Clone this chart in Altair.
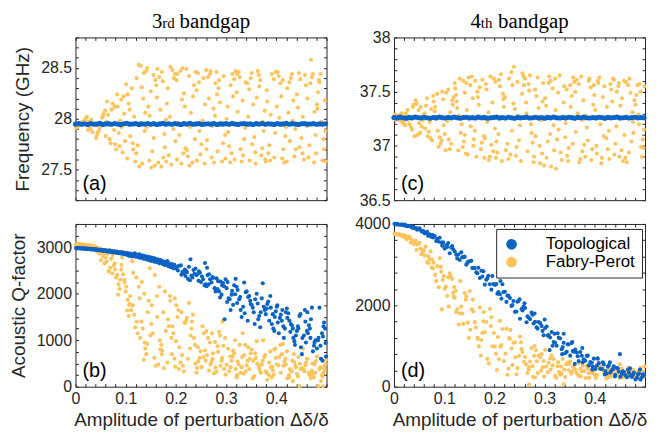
import altair as alt
import pandas as pd

# ---------------- data ----------------
panel_tags = ["(a)", "(b)", "(c)", "(d)"]
series_names = ["Topological", "Fabry-Perot"]
x_title = "Amplitude of perturbation Δδ/δ"
x_label_values = [0, 0.1, 0.2, 0.3, 0.4]

line_x = [0.000,0.006,0.012,0.018,0.024,0.030,0.036,0.042,0.048,0.054,0.060,0.066,0.072,0.078,0.084,0.090,
          0.096,0.102,0.108,0.114,0.120,0.126,0.132,0.138,0.144,0.150,0.156,0.162,0.168,0.174,0.180,0.186,
          0.192,0.198,0.204,0.210,0.216,0.222,0.228,0.234,0.240,0.246,0.252,0.258,0.264,0.270,0.276,0.282,
          0.288,0.294,0.300,0.306,0.312,0.318,0.324,0.330,0.336,0.342,0.348,0.354,0.360,0.366,0.372,0.378,
          0.384,0.390,0.396,0.402,0.408,0.414,0.420,0.426,0.432,0.438,0.444,0.450,0.456,0.462,0.468,0.474,
          0.480,0.486,0.492,0.498]
a_topo_y = [27.948,27.952,27.946,27.951,27.944,27.953,27.949,27.947,27.955,27.945,27.950,27.952,27.946,27.954,27.948,27.943,
            27.951,27.956,27.947,27.949,27.953,27.945,27.950,27.948,27.954,27.946,27.952,27.944,27.950,27.955,27.947,27.951,
            27.946,27.953,27.949,27.944,27.952,27.948,27.955,27.946,27.950,27.953,27.945,27.949,27.951,27.947,27.954,27.944,
            27.950,27.948,27.952,27.946,27.955,27.949,27.945,27.951,27.953,27.947,27.950,27.944,27.952,27.948,27.954,27.946,
            27.951,27.949,27.945,27.953,27.947,27.950,27.955,27.946,27.952,27.948,27.944,27.951,27.953,27.947,27.949,27.952,
            27.946,27.950,27.948,27.951]
c_topo_y = [37.262,37.258,37.265,37.260,37.256,37.263,37.259,37.266,37.261,37.257,37.264,37.260,37.255,37.262,37.258,37.265,
            37.261,37.257,37.263,37.259,37.266,37.260,37.256,37.262,37.264,37.258,37.261,37.257,37.265,37.260,37.263,37.256,
            37.259,37.262,37.266,37.258,37.261,37.257,37.264,37.260,37.255,37.263,37.259,37.262,37.265,37.257,37.260,37.264,
            37.258,37.261,37.256,37.263,37.259,37.266,37.260,37.257,37.262,37.258,37.264,37.261,37.256,37.263,37.259,37.265,
            37.260,37.257,37.262,37.258,37.264,37.261,37.256,37.263,37.259,37.262,37.266,37.258,37.260,37.263,37.257,37.261,
            37.264,37.259,37.262,37.260]

a_fp = [(0.007,27.95),(0.002,27.93),(0.015,27.97),(0.011,27.96),(0.004,27.92),(0.018,27.98),(0.009,27.94),(0.013,27.95),
        (0.001,27.91),(0.016,27.97),
        (0.032,27.99),(0.025,27.89),(0.039,27.95),(0.023,28.02),(0.028,27.92),(0.034,27.87),(0.020,28.00),(0.037,27.94),
        (0.030,27.90),(0.026,27.97),
        (0.043,27.84),(0.056,28.05),(0.049,27.93),(0.041,27.81),(0.053,28.01),(0.046,27.88),(0.059,28.08),(0.051,27.96),
        (0.044,27.86),(0.055,28.03),(0.048,27.91),
        (0.078,28.12),(0.068,27.80),(0.062,27.97),(0.074,28.15),(0.070,27.76),(0.065,28.04),(0.077,27.89),(0.060,27.83),
        (0.072,28.09),(0.067,27.94),(0.079,27.75),(0.063,28.17),
        (0.081,27.70),(0.091,28.19),(0.086,27.86),(0.097,28.05),(0.083,28.24),(0.094,27.67),(0.089,27.98),(0.099,27.78),
        (0.084,28.12),(0.092,27.92),(0.096,28.22),(0.088,27.73),
        (0.112,28.30),(0.103,27.61),(0.117,28.02),(0.109,27.83),(0.101,28.34),(0.115,27.70),(0.106,28.15),(0.119,27.58),
        (0.111,27.95),(0.104,28.24),(0.114,27.76),(0.108,28.09),
        (0.126,28.53),(0.133,27.56),(0.122,28.40),(0.138,27.88),(0.121,27.66),(0.135,28.20),(0.130,28.52),(0.127,27.53),
        (0.139,28.06),(0.124,27.74),(0.136,28.45),(0.129,27.96),(0.132,28.31),
        (0.147,27.59),(0.141,28.47),(0.156,27.81),(0.150,28.27),(0.143,28.50),(0.158,27.54),(0.145,28.12),(0.153,27.68),
        (0.159,28.38),(0.142,27.92),(0.151,27.52),(0.155,28.43),(0.148,28.03),
        (0.172,28.46),(0.165,27.57),(0.161,28.33),(0.178,27.72),(0.169,28.09),(0.163,28.49),(0.175,27.62),(0.180,27.99),
        (0.167,28.41),(0.171,27.53),(0.162,28.21),(0.177,27.85),(0.174,28.37),
        (0.186,27.64),(0.198,28.44),(0.182,28.15),(0.191,27.55),(0.189,28.51),(0.195,27.90),(0.184,28.30),(0.199,27.78),
        (0.193,28.48),(0.181,27.58),(0.188,28.02),(0.196,28.40),
        (0.209,28.47),(0.202,27.60),(0.216,28.25),(0.205,27.96),(0.213,28.50),(0.219,27.71),(0.201,28.38),(0.211,27.56),
        (0.218,28.12),(0.207,27.84),(0.203,28.44),(0.215,27.66),(0.212,28.19),
        (0.233,27.57),(0.226,28.42),(0.238,27.80),(0.221,28.49),(0.230,28.06),(0.224,27.63),(0.236,28.33),(0.228,27.92),
        (0.239,28.46),(0.222,27.69),(0.234,28.22),(0.227,27.54),
        (0.244,28.45),(0.251,27.75),(0.258,28.14),(0.242,27.59),(0.255,28.40),(0.247,27.88),(0.260,28.48),(0.249,27.65),
        (0.241,28.28),(0.253,27.98),(0.257,27.56),(0.246,28.36),
        (0.271,27.62),(0.264,28.41),(0.278,28.03),(0.262,27.79),(0.269,28.47),(0.276,27.57),(0.266,28.20),(0.273,27.93),
        (0.279,28.35),(0.261,27.70),(0.268,28.44),(0.275,28.10),
        (0.285,28.30),(0.292,27.58),(0.281,28.46),(0.298,27.84),(0.288,28.16),(0.283,27.68),(0.295,28.42),(0.290,27.96),
        (0.299,27.61),(0.286,28.38),(0.294,27.76),(0.282,28.24),
        (0.306,27.73),(0.313,28.44),(0.301,28.00),(0.317,27.60),(0.309,28.33),(0.304,27.87),(0.319,28.47),(0.311,27.66),
        (0.303,28.12),(0.316,28.39),(0.308,27.57),(0.314,28.22),
        (0.327,28.41),(0.334,27.64),(0.321,28.26),(0.338,27.91),(0.325,28.46),(0.331,27.58),(0.323,28.07),(0.336,27.80),
        (0.339,28.36),(0.329,27.70),(0.333,28.18),(0.322,28.44),
        (0.347,27.59),(0.342,28.35),(0.356,27.82),(0.351,28.45),(0.344,28.02),(0.358,27.67),(0.349,28.40),(0.341,27.94),
        (0.354,28.14),(0.359,27.56),(0.346,28.29),(0.352,27.75),
        (0.365,28.43),(0.372,27.71),(0.361,28.21),(0.378,27.60),(0.368,28.38),(0.375,27.88),(0.363,28.47),(0.370,27.64),
        (0.377,28.08),(0.366,28.32),(0.373,27.97),(0.379,27.58),
        (0.384,27.66),(0.391,28.44),(0.398,27.86),(0.382,28.17),(0.395,28.39),(0.388,27.59),(0.381,28.28),(0.393,27.95),
        (0.386,27.74),(0.399,28.46),(0.389,28.04),(0.396,27.62),
        (0.405,28.42),(0.412,27.61),(0.401,28.12),(0.418,27.83),(0.408,28.35),(0.414,27.70),(0.403,28.46),(0.419,27.92),
        (0.410,28.22),(0.416,27.57),(0.406,28.01),(0.413,28.38),
        (0.427,27.78),(0.422,28.30),(0.436,27.63),(0.431,28.44),(0.424,28.06),(0.438,27.90),(0.429,28.40),(0.421,27.58),
        (0.434,28.18),(0.439,27.70),(0.426,28.36),(0.432,27.98),
        (0.445,28.45),(0.452,27.66),(0.441,28.24),(0.458,27.95),(0.448,28.39),(0.455,27.60),(0.443,28.11),(0.450,27.81),
        (0.457,28.43),(0.446,27.72),(0.453,28.02),(0.459,28.33),
        (0.464,27.62),(0.471,28.41),(0.469,28.58),(0.478,27.84),(0.462,28.20),(0.475,27.57),(0.468,28.35),(0.461,27.93),
        (0.476,28.07),(0.466,27.74),(0.473,28.44),(0.479,27.66),
        (0.485,28.38),(0.492,27.59),(0.481,28.14),(0.498,27.88),(0.488,28.44),(0.495,27.70),(0.483,28.26),(0.490,27.97),
        (0.499,27.58),(0.486,28.36),(0.494,27.80),(0.482,28.10),(0.497,28.18)]

c_fp = [(0.006,37.26),(0.013,37.23),(0.002,37.29),(0.018,37.21),(0.009,37.27),(0.015,37.30),(0.004,37.24),(0.011,37.28),
        (0.019,37.22),(0.007,37.25),
        (0.027,37.33),(0.034,37.17),(0.021,37.27),(0.038,37.36),(0.031,37.20),(0.024,37.30),(0.036,37.15),(0.029,37.24),
        (0.039,37.38),(0.022,37.19),
        (0.052,37.12),(0.045,37.39),(0.058,37.24),(0.041,37.09),(0.049,37.33),(0.055,37.18),(0.043,37.42),(0.057,37.28),
        (0.047,37.10),(0.053,37.36),(0.050,37.21),
        (0.066,37.44),(0.073,37.07),(0.061,37.30),(0.078,37.46),(0.069,37.13),(0.064,37.37),(0.076,37.05),(0.071,37.22),
        (0.079,37.41),(0.062,37.16),(0.074,37.34),(0.067,37.09),
        (0.093,37.02),(0.086,37.48),(0.099,37.19),(0.082,37.36),(0.089,36.99),(0.096,37.50),(0.084,37.27),(0.091,37.08),
        (0.098,37.43),(0.087,37.14),(0.081,37.32),(0.095,37.05),
        (0.104,37.49),(0.111,36.97),(0.117,37.38),(0.101,37.11),(0.108,37.52),(0.114,37.02),(0.106,37.23),(0.119,37.45),
        (0.103,36.96),(0.112,37.31),(0.109,37.06),(0.116,37.42),
        (0.128,36.96),(0.121,37.58),(0.135,37.20),(0.124,37.47),(0.139,37.04),(0.131,37.62),(0.126,37.35),(0.137,36.99),
        (0.122,37.53),(0.133,37.12),(0.138,37.60),(0.129,37.28),(0.125,37.41),
        (0.149,37.63),(0.143,36.93),(0.157,37.44),(0.141,37.10),(0.152,37.56),(0.158,37.00),(0.145,37.33),(0.155,37.64),
        (0.147,36.92),(0.141,37.49),(0.153,37.18),(0.144,37.58),(0.159,37.06),
        (0.164,36.90),(0.171,37.54),(0.178,37.25),(0.162,37.60),(0.175,37.03),(0.167,37.45),(0.180,36.89),(0.169,37.38),
        (0.161,37.14),(0.176,37.61),(0.173,36.97),(0.166,37.50),(0.179,37.09),
        (0.183,37.57),(0.189,36.87),(0.196,37.40),(0.181,37.07),(0.192,37.64),(0.186,37.22),(0.198,36.95),(0.184,37.52),
        (0.194,37.01),(0.199,37.62),(0.188,37.31),(0.191,36.90),
        (0.209,37.61),(0.203,36.89),(0.217,37.48),(0.201,37.16),(0.213,37.66),(0.206,36.94),(0.219,37.36),(0.211,37.55),
        (0.204,37.04),(0.215,36.86),(0.218,37.43),(0.202,37.59),(0.208,37.11),
        (0.232,36.92),(0.239,37.73),(0.224,37.26),(0.236,37.56),(0.228,36.88),(0.221,37.45),(0.234,37.68),(0.226,37.02),
        (0.238,37.39),(0.223,36.96),(0.229,37.62),(0.235,37.14),
        (0.246,37.59),(0.253,36.86),(0.241,37.34),(0.258,37.64),(0.249,37.05),(0.255,37.48),(0.243,36.91),(0.251,37.19),
        (0.259,37.56),(0.244,36.99),(0.256,37.67),(0.248,37.28),
        (0.266,36.95),(0.261,37.62),(0.274,37.12),(0.269,37.51),(0.278,36.85),(0.263,37.40),(0.271,37.65),(0.276,37.03),
        (0.264,37.30),(0.279,36.90),(0.268,37.57),(0.273,37.20),
        (0.284,37.46),(0.291,36.84),(0.297,37.58),(0.282,37.09),(0.288,37.35),(0.295,36.93),(0.286,37.63),(0.293,37.24),
        (0.299,36.82),(0.281,37.52),(0.290,37.00),(0.296,37.41),
        (0.306,37.04),(0.312,37.60),(0.313,36.81),(0.301,37.44),(0.318,37.19),(0.309,37.64),(0.304,36.89),(0.316,37.53),
        (0.311,37.11),(0.319,36.96),(0.303,37.37),(0.308,37.58),
        (0.327,37.49),(0.323,36.79),(0.336,37.27),(0.321,37.62),(0.332,36.94),(0.338,37.40),(0.325,37.06),(0.330,37.65),
        (0.334,36.87),(0.339,37.55),(0.328,37.15),(0.322,37.33),
        (0.345,36.91),(0.351,37.56),(0.342,37.21),(0.357,37.63),(0.348,36.98),(0.354,37.46),(0.341,37.08),(0.359,37.59),
        (0.347,36.86),(0.352,37.36),(0.344,37.52),(0.356,37.02),
        (0.364,37.61),(0.371,36.88),(0.377,37.42),(0.362,37.13),(0.368,37.57),(0.375,36.95),(0.366,37.30),(0.373,37.64),
        (0.379,37.01),(0.361,37.50),(0.369,36.85),(0.376,37.24),
        (0.386,37.05),(0.392,37.54),(0.381,36.90),(0.397,37.38),(0.389,37.62),(0.384,37.17),(0.395,36.97),(0.399,37.47),
        (0.388,37.60),(0.393,36.87),(0.382,37.28),(0.398,37.56),
        (0.407,37.58),(0.413,36.84),(0.401,37.33),(0.418,37.09),(0.409,37.63),(0.404,36.93),(0.416,37.45),(0.411,37.20),
        (0.419,37.55),(0.403,37.00),(0.414,36.89),(0.406,37.60),
        (0.426,36.97),(0.433,37.52),(0.421,37.25),(0.438,37.61),(0.429,36.88),(0.435,37.41),(0.423,37.07),(0.431,37.57),
        (0.439,36.92),(0.424,37.36),(0.436,37.62),(0.428,37.14),
        (0.447,37.55),(0.441,37.02),(0.454,37.44),(0.449,36.90),(0.458,37.60),(0.443,37.18),(0.451,37.37),(0.456,36.86),
        (0.444,37.50),(0.459,37.10),(0.448,37.58),(0.453,36.96),
        (0.464,36.85),(0.471,37.49),(0.477,37.12),(0.462,37.59),(0.468,36.94),(0.475,37.31),(0.466,37.56),(0.473,37.04),
        (0.479,37.42),(0.461,36.89),(0.469,37.62),(0.476,37.22),
        (0.485,37.56),(0.492,36.99),(0.481,37.38),(0.498,37.15),(0.489,37.57),(0.494,36.90),(0.483,37.47),(0.496,37.06),
        (0.487,37.29),(0.499,37.55),(0.497,36.98),(0.491,37.50),(0.488,37.20)]

b_topo = [(0.001,2982),(0.003,2976),(0.005,2988),(0.006,2979),(0.008,2971),(0.010,2984),(0.012,2975),(0.013,2967),
          (0.015,2980),(0.017,2972),(0.019,2963),(0.020,2977),(0.022,2969),(0.024,2958),(0.026,2973),(0.027,2962),
          (0.029,2954),(0.031,2968),(0.033,2957),(0.034,2948),(0.036,2963),(0.038,2951),(0.040,2944),(0.041,2959),
          (0.043,2946),(0.045,2937),(0.047,2952),(0.048,2940),(0.050,2930),(0.052,2947),(0.054,2933),(0.055,2921),
          (0.057,2941),(0.059,2926),(0.061,2913),(0.062,2934),(0.064,2918),(0.066,2905),(0.068,2927),(0.069,2911),
          (0.071,2897),(0.073,2920),(0.075,2902),(0.076,2888),(0.078,2912),(0.080,2893),(0.082,2878),(0.083,2905),
          (0.085,2884),(0.087,2870),(0.089,2896),(0.090,2874),(0.092,2860),(0.094,2889),(0.096,2866),(0.097,2848),
          (0.099,2878),(0.101,2858),(0.103,2830),(0.104,2876),(0.106,2845),(0.108,2812),(0.109,2862),(0.111,2838),
          (0.113,2800),(0.115,2851),(0.116,2822),(0.118,2869),(0.120,2795),(0.122,2840),(0.123,2812),(0.125,2785),
          (0.127,2846),(0.129,2805),(0.130,2770),(0.132,2826),(0.134,2790),(0.136,2752),(0.137,2818),(0.139,2776),
          (0.141,2740),(0.143,2800),(0.144,2764),(0.146,2722),(0.148,2788),(0.150,2745),(0.151,2705),(0.153,2770),
          (0.155,2730),(0.157,2690),(0.158,2762),(0.160,2712),(0.162,2680),(0.164,2740),(0.165,2695),(0.167,2655),
          (0.169,2726),(0.171,2670),(0.172,2708),(0.174,2640),(0.176,2690),(0.178,2615),(0.179,2672),(0.181,2632),
          (0.183,2700),(0.185,2590),(0.186,2655),(0.188,2610),(0.190,2568),(0.192,2640),(0.193,2585),(0.195,2545),
          (0.197,2620),(0.199,2560),
          (0.207,2600),(0.213,2470),(0.201,2540),(0.219,2380),(0.210,2610),(0.204,2500),(0.216,2440),(0.203,2585),
          (0.218,2520),(0.211,2410),
          (0.226,2580),(0.233,2350),(0.221,2480),(0.229,2740),(0.237,2430),(0.224,2320),(0.239,2540),(0.231,2390),
          (0.222,2460),(0.235,2510),(0.228,2290),
          (0.243,2420),(0.250,2250),(0.246,2480),(0.257,2180),(0.241,2400),(0.254,2310),(0.248,2450),(0.259,2200),
          (0.252,2370),(0.258,2660),(0.245,2280),
          (0.266,2420),(0.261,2160),(0.274,2340),(0.279,2050),(0.263,2400),(0.271,2240),(0.268,2310),(0.277,2120),
          (0.273,2360),(0.265,2200),(0.262,2560),
          (0.284,2270),(0.291,1980),(0.281,2330),(0.296,2160),(0.288,1920),(0.294,2230),(0.283,2100),(0.299,2310),
          (0.286,2050),(0.297,1450),(0.292,2180),(0.289,2260),
          (0.307,1880),(0.301,2120),(0.314,1760),(0.303,2250),(0.318,1990),(0.309,1650),(0.312,2060),(0.305,1900),
          (0.316,2180),(0.319,2320),(0.302,1820),(0.311,1980),
          (0.323,2080),(0.337,1580),(0.328,1930),(0.321,2150),(0.334,1720),(0.326,1880),(0.339,2030),(0.331,1500),
          (0.322,1800),(0.336,2240),(0.329,1650),
          (0.346,1950),(0.351,1760),(0.343,1420),(0.358,1880),(0.341,2050),(0.355,1600),(0.349,1780),(0.344,1930),
          (0.357,1350),(0.353,1700),(0.348,1850),
          (0.366,1520),(0.361,2000),(0.377,1650),(0.368,1280),(0.363,1790),(0.379,1560),(0.371,1900),(0.373,2226),
          (0.364,1450),(0.375,1720),(0.369,1600),
          (0.384,1830),(0.391,1350),(0.381,1680),(0.397,1500),(0.388,1950),(0.394,1250),(0.399,1620),(0.382,1780),
          (0.386,1420),(0.393,1560),(0.396,1200),(0.389,1700),
          (0.407,1480),(0.402,1750),(0.414,1300),(0.419,1600),(0.405,1150),(0.411,1420),(0.401,1720),(0.417,1250),
          (0.409,1550),(0.415,1050),(0.403,1380),(0.412,1650),
          (0.428,1180),(0.422,1480),(0.436,980),(0.431,1320),(0.424,1580),(0.439,1100),(0.426,1420),(0.433,1250),
          (0.421,1680),(0.437,900),(0.429,1350),(0.434,1050),
          (0.446,1520),(0.452,1050),(0.441,1200),(0.457,1650),(0.449,850),(0.443,1300),(0.455,1100),(0.448,1560),
          (0.459,950),(0.444,1250),(0.451,700),(0.458,1400),
          (0.468,1050),(0.462,1600),(0.475,880),(0.461,1200),(0.471,1700),(0.478,1000),(0.465,1320),(0.473,760),
          (0.463,1150),(0.469,1450),(0.476,950),(0.467,1250),
          (0.486,1700),(0.493,1080),(0.481,820),(0.497,1250),(0.489,600),(0.483,1000),(0.495,1380),(0.488,880),
          (0.491,1150),(0.499,650),(0.484,1050),(0.494,1300),(0.498,940),(0.492,560)]

b_fp = [(0.001,3065),(0.003,3050),(0.004,3072),(0.006,3058),(0.008,3040),(0.009,3068),(0.011,3052),(0.013,3035),
        (0.014,3060),(0.016,3045),(0.018,3028),(0.019,3055),(0.021,3038),(0.023,3015),(0.025,3048),(0.026,3025),
        (0.028,3000),(0.030,3040),(0.031,3010),(0.033,2975),(0.035,3030),(0.036,2990),(0.038,2945),(0.040,3015),
        (0.041,2960),(0.043,2905),(0.045,2990),(0.046,2930),(0.048,2860),(0.050,2970),
        (0.061,2890),(0.055,2800),(0.068,2945),(0.051,2720),(0.064,2860),(0.058,2650),(0.053,2910),(0.069,2560),
        (0.060,2780),(0.066,2480),(0.062,2690),(0.057,2870),
        (0.083,2400),(0.076,2600),(0.089,2300),(0.071,2750),(0.079,2520),(0.086,2200),(0.073,2440),(0.074,2830),
        (0.088,2100),(0.081,2350),(0.078,2650),(0.085,1980),
        (0.098,2250),(0.091,2520),(0.104,1870),(0.093,2780),(0.101,2150),(0.107,1760),(0.095,2420),(0.109,1950),
        (0.103,1640),(0.097,2300),(0.092,2620),(0.106,1520),(0.100,2050),(0.108,1780),
        (0.122,1400),(0.115,2450),(0.111,1650),(0.126,2150),(0.119,1280),(0.128,1900),(0.113,2700),(0.124,1150),
        (0.117,1550),(0.121,2350),(0.129,1050),(0.114,1750),
        (0.137,2000),(0.143,920),(0.131,1400),(0.148,2550),(0.139,820),(0.134,1250),(0.146,1850),(0.141,700),
        (0.132,2250),(0.149,1100),(0.136,580),(0.144,1600),(0.138,950),
        (0.158,2400),(0.165,480),(0.151,1350),(0.162,1950),(0.169,800),(0.154,1150),(0.167,2150),(0.157,620),
        (0.163,1500),(0.152,1750),(0.160,450),(0.168,1000),
        (0.178,2050),(0.172,700),(0.186,1300),(0.175,1600),(0.183,520),(0.171,900),(0.189,1850),(0.180,1200),
        (0.176,400),(0.184,1450),(0.173,780),(0.188,1950),
        (0.197,600),(0.191,1050),(0.205,1650),(0.199,430),(0.193,1300),(0.207,850),(0.201,1750),(0.209,520),
        (0.195,1150),(0.203,1500),(0.192,700),(0.198,1900),(0.206,380),(0.200,980),
        (0.217,1380),(0.224,600),(0.211,1600),(0.228,820),(0.220,1420),(0.222,1480),(0.214,450),(0.229,1100),
        (0.219,1370),(0.212,680),(0.226,1800),(0.216,330),
        (0.238,900),(0.231,1250),(0.245,550),(0.234,1550),(0.249,760),(0.242,400),(0.236,1050),(0.247,620),
        (0.232,1400),(0.241,300),(0.244,850),(0.239,500),
        (0.256,1150),(0.262,680),(0.251,420),(0.268,950),(0.259,560),(0.253,1300),(0.266,350),(0.258,780),
        (0.264,1050),(0.269,480),(0.255,640),(0.261,1200),
        (0.276,290),(0.283,870),(0.271,540),(0.288,1100),(0.279,410),(0.274,720),(0.286,1180),(0.281,320),
        (0.273,600),(0.278,960),(0.289,450),(0.284,750),(0.272,1150),
        (0.296,380),(0.291,560),(0.304,820),(0.299,260),(0.293,1400),(0.308,650),(0.301,470),(0.295,880),
        (0.306,330),(0.292,620),(0.298,1050),(0.309,420),
        (0.316,720),(0.322,250),(0.311,560),(0.327,900),(0.319,380),(0.313,650),(0.325,480),(0.318,1000),
        (0.329,300),(0.314,780),(0.323,540),(0.321,200),
        (0.336,680),(0.331,420),(0.344,850),(0.339,330),(0.347,600),(0.333,1150),(0.341,460),(0.349,720),
        (0.335,280),(0.343,560),(0.338,900),(0.346,380),(0.332,640),
        (0.356,230),(0.362,500),(0.351,800),(0.367,360),(0.359,620),(0.353,180),(0.365,450),(0.358,720),
        (0.369,300),(0.354,560),(0.361,980),(0.366,400),
        (0.376,640),(0.382,150),(0.371,480),(0.388,760),(0.379,330),(0.373,560),(0.385,250),(0.378,680),
        (0.389,420),(0.374,1000),(0.381,300),(0.386,520),
        (0.396,800),(0.391,200),(0.404,460),(0.399,620),(0.393,350),(0.408,900),(0.401,480),(0.395,260),
        (0.406,640),(0.392,420),(0.398,820),(0.409,300),
        (0.416,540),(0.422,180),(0.411,700),(0.427,380),(0.419,480),(0.413,920),(0.425,250),(0.418,600),
        (0.429,350),(0.414,450),(0.421,760),(0.426,200),
        (0.436,530),(0.431,330),(0.444,640),(0.439,420),(0.433,120),(0.447,500),(0.441,280),(0.435,700),
        (0.448,380),(0.432,560),(0.443,220),(0.438,450),(0.446,10),
        (0.456,330),(0.462,600),(0.451,400),(0.467,250),(0.459,520),(0.453,820),(0.465,300),(0.458,460),
        (0.469,180),(0.454,380),(0.461,600),(0.466,260),
        (0.476,480),(0.471,340),(0.484,10),(0.479,550),(0.473,280),(0.488,420),(0.481,650),(0.475,200),
        (0.486,380),(0.472,500),(0.478,300),(0.489,120),
        (0.496,450),(0.491,250),(0.499,580),(0.493,10),(0.497,360),(0.492,220),(0.498,480),(0.494,300),
        (0.495,400)]

d_topo = [(0.001,4004),(0.004,3989),(0.006,4003),(0.008,3990),(0.011,3979),(0.014,3985),(0.016,3988),(0.018,3972),
          (0.021,3987),(0.024,3959),(0.026,3942),(0.028,3956),(0.031,3945),(0.034,3943),(0.036,3909),(0.038,3933),
          (0.041,3895),(0.044,3899),(0.046,3858),(0.048,3874),(0.051,3891),(0.054,3833),(0.056,3807),(0.058,3833),
          (0.061,3769),(0.064,3787),(0.066,3806),(0.068,3708),(0.071,3746),(0.074,3685),(0.076,3731),(0.078,3668),
          (0.081,3704),(0.084,3581),(0.086,3637),(0.088,3568),(0.091,3660),(0.094,3543),(0.096,3466),(0.098,3547),
          (0.104,3474),(0.108,3532),(0.101,3395),(0.106,3437),(0.116,3458),(0.111,3279),(0.118,3375),(0.114,3424),
          (0.128,3250),(0.121,3322),(0.124,3243),(0.126,3154),(0.134,3302),(0.138,3187),(0.131,3113),(0.136,3182),
          (0.146,3038),(0.141,3192),(0.148,3079),(0.144,3000),(0.154,3097),(0.158,2911),(0.151,3082),(0.156,2917),
          (0.166,2790),(0.161,2915),(0.164,2815),(0.168,2923),(0.178,2837),(0.171,2671),(0.174,2852),(0.176,2708),
          (0.184,2630),(0.188,2726),(0.181,2508),(0.186,2668),(0.196,2721),(0.191,2517),(0.198,2524),(0.194,2386),
          (0.204,2525),(0.206,2284),(0.201,2501),(0.208,2328),(0.216,2520),(0.211,2272),(0.218,2327),(0.214,2164),
          (0.228,2234),(0.221,2332),(0.224,2085),(0.226,2238),(0.234,1986),(0.238,2106),(0.231,2182),(0.236,2010),
          (0.246,2088),(0.241,1840),(0.248,2107),(0.244,1847),(0.254,1910),(0.258,1971),(0.251,1669),(0.256,1875),
          (0.266,1728),(0.261,1936),(0.268,1698),(0.264,1586),(0.274,1820),(0.278,1553),(0.271,1661),(0.276,1769),
          (0.286,1428),(0.281,1595),(0.284,1460),(0.288,1591),(0.294,1494),(0.298,1262),(0.291,1564),(0.296,1372),
          (0.306,1256),(0.301,1444),(0.308,1272),(0.304,1480),(0.314,1344),(0.318,1100),(0.311,1210),(0.316,1005),
          (0.326,1314),(0.321,1080),(0.328,1206),(0.324,1008),(0.334,922),(0.338,1079),(0.331,1184),(0.336,973),
          (0.346,1041),(0.341,822),(0.348,1044),(0.344,858),(0.354,1075),(0.358,861),(0.351,763),(0.356,879),
          (0.366,750),(0.361,914),(0.368,628),(0.364,838),(0.374,760),(0.378,672),(0.371,853),(0.376,599),
          (0.386,763),(0.381,637),(0.388,523),(0.384,758),(0.394,588),(0.398,690),(0.391,608),(0.396,498),
          (0.406,687),(0.401,433),(0.408,579),(0.404,517),(0.414,436),(0.418,548),(0.411,442),(0.416,600),
          (0.426,493),(0.421,385),(0.428,526),(0.424,323),(0.434,408),(0.438,502),(0.431,351),(0.436,431),
          (0.446,453),(0.441,292),(0.448,369),(0.444,457),(0.454,315),(0.458,361),(0.451,244),(0.456,377),
          (0.466,415),(0.461,281),(0.468,343),(0.464,233),(0.474,241),(0.478,348),(0.471,271),(0.476,302),
          (0.486,304),(0.481,177),(0.488,326),(0.484,220),(0.494,234),(0.498,282),(0.491,174),(0.496,306),
          (0.212,2600),(0.260,2050),(0.338,1300),(0.450,800),(0.405,700),(0.320,1300),(0.375,950),(0.430,600),
          (0.470,450),(0.280,1800),(0.490,420),(0.300,1650),(0.250,2150),(0.355,1100),(0.440,250),(0.310,900),
          (0.360,560),(0.395,420),(0.420,300),(0.335,800)]

d_fp = [(0.001,3761),(0.003,3748),(0.005,3759),(0.007,3745),(0.009,3733),(0.011,3748),(0.013,3722),(0.015,3720),
        (0.017,3696),(0.019,3724),(0.021,3673),(0.023,3711),(0.025,3625),(0.027,3659),(0.029,3657),(0.031,3693),
        (0.033,3547),(0.035,3617),(0.037,3551),(0.039,3509),(0.041,3515),(0.043,3595),(0.045,3363),(0.047,3495),
        (0.049,3510),
        (0.063,3444),(0.057,3302),(0.051,3540),(0.068,3208),(0.054,3256),(0.066,3064),(0.059,3357),(0.061,3225),
        (0.053,3393),(0.069,3036),
        (0.073,3327),(0.082,2749),(0.071,3131),(0.078,2905),(0.086,2967),(0.075,2932),(0.079,3048),(0.084,2594),
        (0.076,3128),(0.089,2446),
        (0.097,2620),(0.091,3156),(0.103,2460),(0.108,2688),(0.094,2828),(0.099,2721),(0.106,2233),(0.093,2945),
        (0.101,2407),(0.109,1969),
        (0.113,2712),(0.121,2181),(0.118,2310),(0.124,1834),(0.111,2788),(0.126,1902),(0.116,2646),(0.129,1530),
        (0.119,2214),(0.123,2358),
        (0.132,2600),(0.138,1544),(0.144,2216),(0.131,1800),(0.147,1576),(0.136,1797),(0.141,2301),(0.149,1197),
        (0.134,1969),(0.143,2138),
        (0.158,1846),(0.152,1398),(0.151,2350),(0.166,1202),(0.163,1454),(0.169,991),(0.155,1901),(0.161,1587),
        (0.157,2137),(0.167,1175),
        (0.171,1949),(0.186,684),(0.178,1609),(0.174,1147),(0.181,1342),(0.176,1319),(0.184,1589),(0.173,764),
        (0.179,1837),(0.189,574),
        (0.196,994),(0.191,1910),(0.203,810),(0.207,1222),(0.193,1490),(0.199,1321),(0.209,673),(0.194,1705),
        (0.201,987),(0.205,409),
        (0.216,1418),(0.222,808),(0.212,990),(0.228,446),(0.211,1618),(0.219,633),(0.224,1425),(0.226,295),
        (0.214,1025),(0.229,1197),
        (0.232,1396),(0.246,456),(0.238,1082),(0.242,722),(0.236,536),(0.249,760),(0.231,1180),(0.244,304),
        (0.234,940),(0.241,1090),
        (0.256,855),(0.263,545),(0.251,1235),(0.268,425),(0.259,615),(0.266,337),(0.254,925),(0.261,731),
        (0.253,1089),(0.269,481),
        (0.274,950),(0.281,228),(0.288,766),(0.276,506),(0.284,624),(0.271,616),(0.279,760),(0.286,334),
        (0.283,896),(0.277,242),
        (0.296,475),(0.301,910),(0.293,393),(0.308,590),(0.291,719),(0.298,632),(0.306,356),(0.294,800),
        (0.303,494),(0.299,248),
        (0.318,681),(0.312,424),(0.326,503),(0.321,274),(0.314,773),(0.329,358),(0.311,691),(0.323,218),
        (0.316,525),(0.327,598),
        (0.336,679),(0.331,291),(0.343,551),(0.348,403),(0.334,327),(0.339,421),(0.346,593),(0.341,237),
        (0.333,497),(0.349,559),
        (0.358,464),(0.363,341),(0.351,618),(0.366,295),(0.354,372),(0.369,257),(0.357,501),(0.361,422),
        (0.368,571),(0.353,321),
        (0.376,520),(0.382,211),(0.371,442),(0.388,331),(0.379,382),(0.374,379),(0.386,445),(0.372,256),
        (0.384,509),(0.389,218),
        (0.398,321),(0.391,527),(0.404,285),(0.396,379),(0.409,441),(0.393,404),(0.401,267),(0.407,490),
        (0.394,338),(0.402,216),
        (0.413,437),(0.421,304),(0.418,347),(0.426,230),(0.411,490),(0.429,275),(0.416,455),(0.423,202),
        (0.419,369),(0.427,410),
        (0.436,462),(0.431,243),(0.444,391),(0.439,309),(0.447,267),(0.433,322),(0.441,424),(0.449,215),
        (0.434,370),(0.446,408),
        (0.458,356),(0.453,278),(0.466,460),(0.451,252),(0.463,304),(0.456,230),(0.469,393),(0.461,343),
        (0.454,443),(0.467,280),
        (0.476,418),(0.483,205),(0.471,368),(0.488,292),(0.479,330),(0.474,330),(0.486,380),(0.481,242),
        (0.473,430),(0.489,217),
        (0.494,297),(0.491,460),(0.498,272),(0.496,348),(0.492,398),(0.499,500),
        (0.269,50),(0.338,60),(0.120,2450),(0.095,1900),(0.280,1000),(0.450,550)]

# ---------------- style / layout ----------------
BLUE = "#0B63C4"
ORANGE = "#FFC35C"
INK = "#262626"
SANS = "Liberation Sans"
SERIF = "Liberation Serif"
W, H = 253, 164

color_scale = alt.Scale(domain=series_names, range=[BLUE, ORANGE])
x_minor = [round(i * 0.02, 2) for i in range(26)]


def to_frame(pairs, name):
    return pd.DataFrame({"amp": [p[0] for p in pairs], "val": [p[1] for p in pairs], "series": name})


def tick_axis(orient, offset, values):
    return alt.Axis(orient=orient, offset=offset, values=values, labels=False, domain=False,
                    grid=False, title=None, ticks=True, tickSize=3, tickColor=INK, tickWidth=1)


def panel(fp, topo, ydom, ylabels, yminor, yfmt, ytitle, tag, bottom_row, title=None, legend=False,
          topo_size=17):
    df = pd.concat([to_frame(fp, series_names[1]), to_frame(topo, series_names[0])], ignore_index=True)
    xs = alt.Scale(domain=[0, 0.5], nice=False, zero=False)
    ys = alt.Scale(domain=ydom, nice=False, zero=False)
    if bottom_row:
        xaxis = alt.Axis(values=x_label_values, format="~g", ticks=False, tickSize=0, domain=False,
                         grid=False, title=x_title, labelFlush=False, labelPadding=4, titlePadding=4)
    else:
        xaxis = None
    yaxis = alt.Axis(values=ylabels, format=yfmt, ticks=False, tickSize=0, domain=False, grid=False,
                     title=ytitle, labelFlush=False, labelPadding=4, titlePadding=8)
    leg = None
    if legend:
        leg = alt.Legend(title=None, orient="none", legendX=103, legendY=5, fillColor="white",
                         strokeColor=INK, padding=7, symbolType="circle", symbolSize=115,
                         symbolStrokeWidth=0, symbolOpacity=1, labelFontSize=17, labelFont=SANS,
                         labelColor="black", labelOffset=26, rowPadding=0, cornerRadius=0)
    color = alt.Color("series:N", scale=color_scale, legend=leg)
    fp_layer = alt.Chart(df).transform_filter(alt.datum.series == series_names[1]).mark_circle(
        size=17, opacity=1).encode(x=alt.X("amp:Q", scale=xs, axis=xaxis),
                                   y=alt.Y("val:Q", scale=ys, axis=yaxis), color=color)
    topo_layer = alt.Chart(df).transform_filter(alt.datum.series == series_names[0]).mark_circle(
        size=topo_size, opacity=1).encode(x=alt.X("amp:Q", scale=xs, axis=None),
                                          y=alt.Y("val:Q", scale=ys, axis=None), color=color)
    ticks_in1 = alt.Chart(df).mark_point(opacity=0, size=1).encode(
        x=alt.X("amp:Q", scale=xs, axis=tick_axis("top", -H, x_minor)),
        y=alt.Y("val:Q", scale=ys, axis=tick_axis("right", -W, yminor)))
    ticks_in2 = alt.Chart(df).mark_point(opacity=0, size=1).encode(
        x=alt.X("amp:Q", scale=xs, axis=tick_axis("bottom", -H, x_minor)),
        y=alt.Y("val:Q", scale=ys, axis=tick_axis("left", -W, yminor)))
    tag_layer = alt.Chart(pd.DataFrame({"t": [tag]})).mark_text(
        align="left", baseline="alphabetic", fontSize=20, font=SANS, color="black").encode(
        x=alt.value(7), y=alt.value(H - 10), text="t:N")
    layers = [ticks_in1, ticks_in2, fp_layer, topo_layer, tag_layer]
    if title:
        num, suf, rest = title
        w_num, w_suf, w_gap, w_rest = 10.5, 12.0, 5.3, 71.1
        x0 = W / 2 - (w_num + w_suf + w_gap + w_rest) / 2
        for txt, xx, fs in [(num, x0, 21), (suf, x0 + w_num, 15), (rest, x0 + w_num + w_suf + w_gap, 21)]:
            layers.append(alt.Chart(pd.DataFrame({"t": [txt]})).mark_text(
                align="left", baseline="alphabetic", fontSize=fs, font=SERIF, color="black").encode(
                x=alt.value(xx), y=alt.value(-10), text="t:N"))
    return alt.layer(*layers).resolve_axis(x="independent", y="independent").properties(width=W, height=H)


a_topo = list(zip(line_x, a_topo_y))
c_topo = list(zip(line_x, c_topo_y))

pa = panel(a_fp, a_topo, [27.2, 28.8], [27.5, 28, 28.5], [round(27.2 + i * 0.1, 1) for i in range(17)],
           "~g", "Frequency (GHz)", panel_tags[0], False, title=("3", "rd", "bandgap"), topo_size=27)
pc = panel(c_fp, c_topo, [36.5, 38], [36.5, 37, 37.5, 38], [round(36.5 + i * 0.1, 1) for i in range(16)],
           "~g", None, panel_tags[2], False, title=("4", "th", "bandgap"), topo_size=27)
pb = panel(b_fp, b_topo, [0, 3500], [0, 1000, 2000, 3000], [i * 250 for i in range(15)],
           "d", "Acoustic Q-factor", panel_tags[1], True)
pd_ = panel(d_fp, d_topo, [0, 4000], [0, 2000, 4000], [i * 400 for i in range(11)],
            "d", None, panel_tags[3], True, legend=True)

chart = alt.concat(pa, pc, pb, pd_, columns=2, spacing=alt.RowColnumber(row=24, column=68),
                   bounds="flush").resolve_scale(color="independent").properties(
    padding={"left": 0, "top": 0, "right": 0, "bottom": 0}
).configure_view(stroke=INK, strokeWidth=1).configure_axis(
    labelFont=SANS, titleFont=SANS, labelFontSize=16, titleFontSize=19, labelColor=INK,
    titleColor=INK, titleFontWeight="normal"
)

chart.save("out.html", embed_options={"renderer": "svg", "actions": False})
